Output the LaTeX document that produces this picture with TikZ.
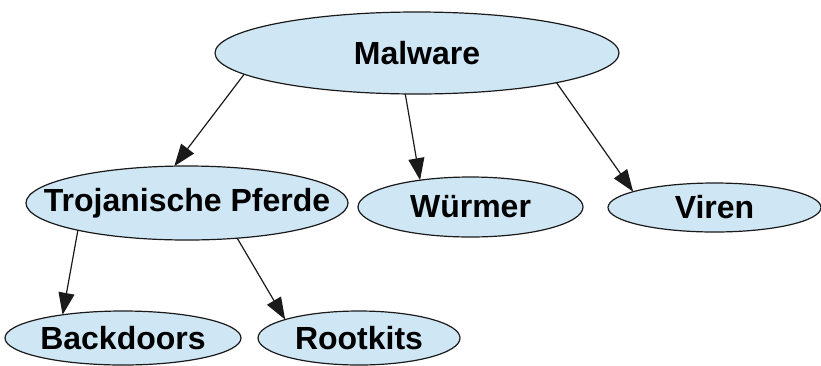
\documentclass[tikz,border=0pt]{standalone}
\usepackage{fontspec}
\setmainfont{Liberation Sans}
\usetikzlibrary{shapes.geometric,arrows.meta}
\definecolor{ellfill}{HTML}{CFE6F5}
\definecolor{edgecol}{HTML}{1A1A1A}
\tikzset{
  ell/.style={ellipse, draw=edgecol, line width=1.2pt, fill=ellfill, inner sep=0pt, outer sep=0pt},
  lab/.style={font=\fontsize{32}{36}\selectfont\bfseries, text=black, inner sep=0pt},
  conn/.style={draw=edgecol, line width=1.2pt, -{Triangle[length=22pt,width=16pt]}}
}
\begin{document}
\begin{tikzpicture}[x=1pt,y=-1pt]
\useasboundingbox (0,0) rectangle (821,365);
\node[ell, minimum width=404pt, minimum height=82pt] (mal) at (417,53) {};
\node[lab] at (mal) {Malware};
\node[ell, minimum width=322pt, minimum height=74pt] (troj) at (187,203) {};
\node[lab] at (troj) {Trojanische Pferde};
\node[ell, minimum width=225pt, minimum height=60pt] (wurm) at (470.5,207) {};
\node[lab] at (wurm) {Würmer};
\node[ell, minimum width=213pt, minimum height=49pt] (vir) at (714.5,207.5) {};
\node[lab] at (vir) {Viren};
\node[ell, minimum width=236pt, minimum height=54pt] (back) at (123,338) {};
\node[lab] at (back) {Backdoors};
\node[ell, minimum width=202pt, minimum height=54pt] (root) at (359,338) {};
\node[lab] at (root) {Rootkits};
\draw[conn] (mal.187.9) -- (troj.109.8);
\draw[conn] (mal.-106.6) -- (wurm.152.3);
\draw[conn] (mal.-12.4) -- (vir.169.3);
\draw[conn] (troj.194.8) -- (back.159.7);
\draw[conn] (troj.-35.3) -- (root.166.6);
\end{tikzpicture}
\end{document}
